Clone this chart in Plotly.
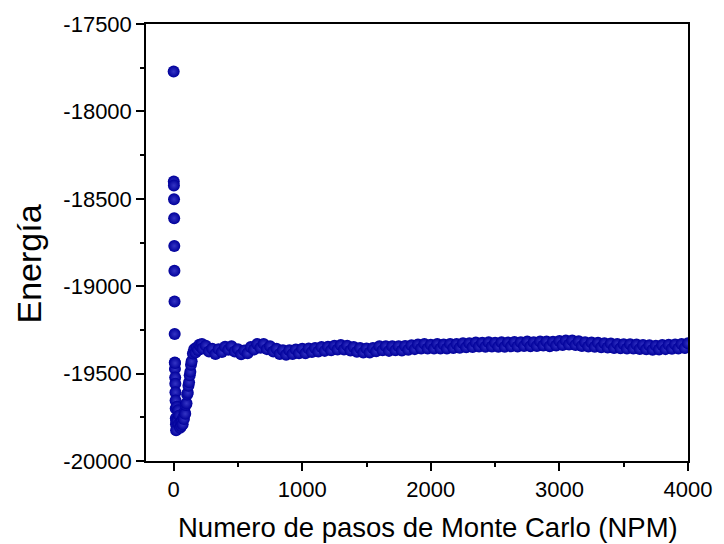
import plotly.graph_objects as go

# ---- data ----
early_steps = [0, 1, 2, 3, 4, 5, 6, 7, 8, 9, 10, 11, 12, 13, 14, 15, 16, 17, 18, 19, 20]
early_energy = [-17772, -18401, -18424, -18503, -18611, -18770, -18912, -19087, -19274,
                -19437, -19473, -19440, -19522, -19558, -19607, -19654, -19700, -19756,
                -19790, -19824, -19770]

rise_steps = [25, 30, 35, 40, 45, 50, 55, 60, 65, 70, 75, 80, 85, 90, 95, 100, 105, 110,
              115, 120, 125, 130, 135, 140, 150, 160, 170, 180, 190, 200, 210, 220]
rise_energy = [-19690, -19770, -19710, -19790, -19740, -19810, -19780, -19800, -19770,
               -19790, -19750, -19760, -19720, -19730, -19680, -19670, -19620, -19610,
               -19570, -19550, -19510, -19490, -19450, -19430, -19385, -19360, -19380,
               -19350, -19365, -19335, -19345, -19330]

late_steps = list(range(225, 4001, 25))
late_energy = [
    -19357, -19340, -19374, -19358, -19388, -19360, -19377, -19346, -19364, -19343,
    -19374, -19360, -19390, -19368, -19384, -19348, -19362, -19331, -19352, -19330,
    -19360, -19343, -19374, -19358, -19388, -19366, -19392, -19366, -19388, -19362,
    -19384, -19358, -19384, -19356, -19377, -19354, -19374, -19348, -19370, -19347,
    -19367, -19340, -19362, -19337, -19362, -19340, -19368, -19348, -19375, -19354,
    -19380, -19356, -19379, -19353, -19372, -19343, -19366, -19344, -19370, -19344,
    -19366, -19343, -19368, -19342, -19364, -19338, -19360, -19334, -19356, -19330,
    -19357, -19335, -19357, -19331, -19356, -19334, -19356, -19330, -19353, -19331,
    -19352, -19326, -19349, -19326, -19348, -19322, -19345, -19323, -19346, -19320,
    -19345, -19323, -19346, -19321, -19347, -19322, -19344, -19319, -19345, -19320,
    -19342, -19317, -19343, -19320, -19342, -19316, -19339, -19317, -19343, -19318,
    -19339, -19313, -19336, -19311, -19334, -19311, -19336, -19315, -19342, -19320,
    -19345, -19322, -19347, -19324, -19349, -19326, -19351, -19328, -19353, -19330,
    -19355, -19332, -19357, -19332, -19357, -19334, -19359, -19336, -19361, -19338,
    -19363, -19340, -19362, -19337, -19360, -19335, -19358, -19333, -19356, -19331,
    -19353, -19327,
]

steps = early_steps + rise_steps + late_steps
energy = early_energy + rise_energy + late_energy

x_ticks = [0, 1000, 2000, 3000, 4000]
x_ticklabels = ["0", "1000", "2000", "3000", "4000"]
y_ticks = [-20000, -19500, -19000, -18500, -18000, -17500]
y_ticklabels = ["-20000", "-19500", "-19000", "-18500", "-18000", "-17500"]
x_title = "Numero de pasos de Monte Carlo (NPM)"
y_title = "Energía"

FONT = "Liberation Sans, Arial, sans-serif"

fig = go.Figure()
fig.add_trace(go.Scatter(
    x=steps, y=energy, mode="markers",
    marker=dict(size=12, color="#00009a", line=dict(width=0),
                gradient=dict(type="radial", color="#3434c4")),
    showlegend=False,
))

axis_common = dict(
    showgrid=False, zeroline=False, showline=True, linecolor="black", linewidth=1.5,
    mirror=True, ticks="outside", ticklen=8, tickwidth=1.5, tickcolor="black",
    tickfont=dict(family=FONT, size=22, color="black"),
)

fig.update_layout(
    width=724, height=544,
    margin=dict(l=146, r=30, t=20, b=83),
    plot_bgcolor="white", paper_bgcolor="white",
    xaxis=dict(range=[-215, 4000], tickvals=x_ticks, ticktext=x_ticklabels,
               minor=dict(tickvals=[500, 1500, 2500, 3500], ticklen=4, tickwidth=1.5,
                          tickcolor="black", ticks="outside"),
               **axis_common),
    yaxis=dict(range=[-20000, -17500], tickvals=y_ticks, ticktext=y_ticklabels,
               minor=dict(tickvals=[-19750, -19250, -18750, -18250, -17750], ticklen=4,
                          tickwidth=1.5, tickcolor="black", ticks="outside"),
               **axis_common),
    annotations=[
        dict(text=x_title, xref="paper", yref="paper", x=0.5, y=0, xshift=11, yshift=-66,
             xanchor="center", yanchor="middle", showarrow=False,
             font=dict(family=FONT, size=27.5, color="black")),
        dict(text=y_title, xref="paper", yref="paper", x=0, y=0.5, xshift=-118, yshift=-22,
             xanchor="center", yanchor="middle", textangle=-90, showarrow=False,
             font=dict(family=FONT, size=34, color="black")),
    ],
)

fig.write_html("out.html")
